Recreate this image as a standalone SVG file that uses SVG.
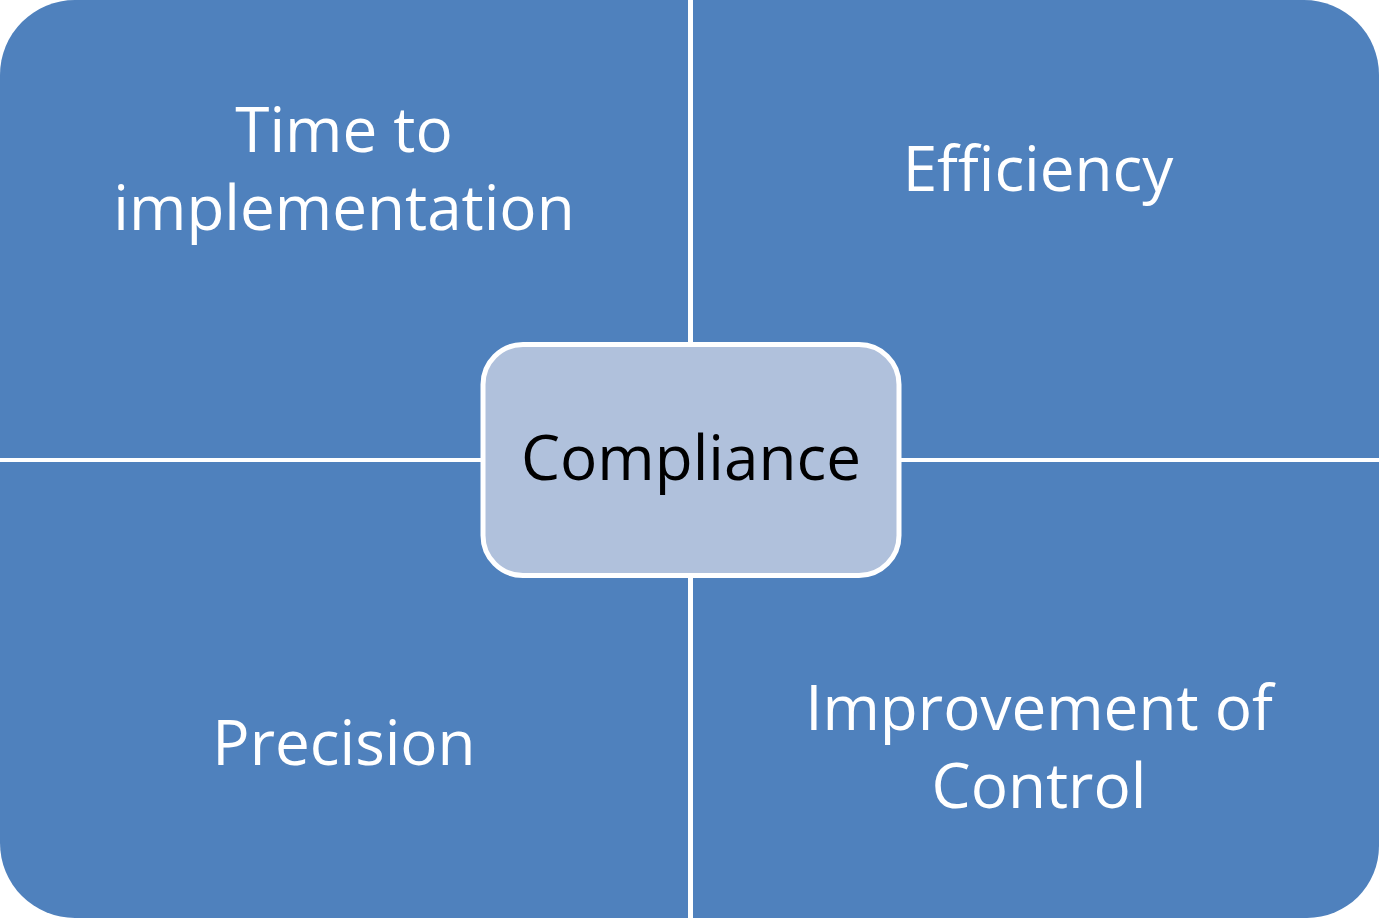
<svg xmlns="http://www.w3.org/2000/svg" width="1379" height="918" viewBox="0 0 1379 918">
<style>
.q{fill:#4F81BD;}
.t{font-family:"Open Sans","Liberation Sans",sans-serif;font-size:62px;fill:#FFFFFF;text-anchor:middle;}
.c{font-family:"Open Sans","Liberation Sans",sans-serif;font-size:62px;fill:#000000;text-anchor:middle;}
.box{fill:#B0C1DC;stroke:#FFFFFF;stroke-width:5;}
</style>
<rect width="1379" height="918" fill="#FFFFFF"/>
<g id="node-time">
<path class="q" d="M0,75 A75,75 0 0 1 75,0 H688 V458 H0 Z"/>
<text class="t" x="344" y="152">Time to</text>
<text class="t" x="344" y="230">implementation</text>
</g>
<g id="node-efficiency">
<path class="q" d="M693,0 H1304 A75,75 0 0 1 1379,75 V458 H693 Z"/>
<text class="t" x="1038" y="191">Efficiency</text>
</g>
<g id="node-precision">
<path class="q" d="M0,462 H688 V918 H75 A75,75 0 0 1 0,843 Z"/>
<text class="t" x="344" y="765">Precision</text>
</g>
<g id="node-control">
<path class="q" d="M693,462 H1379 V846 A72,72 0 0 1 1307,918 H693 Z"/>
<text class="t" x="1039" y="730">Improvement of</text>
<text class="t" x="1039" y="808">Control</text>
</g>
<g id="connectors"></g>
<g id="node-compliance">
<rect class="box" x="483" y="344.5" width="416" height="231" rx="40" ry="40"/>
<text class="c" x="691" y="480">Compliance</text>
</g>
</svg>
